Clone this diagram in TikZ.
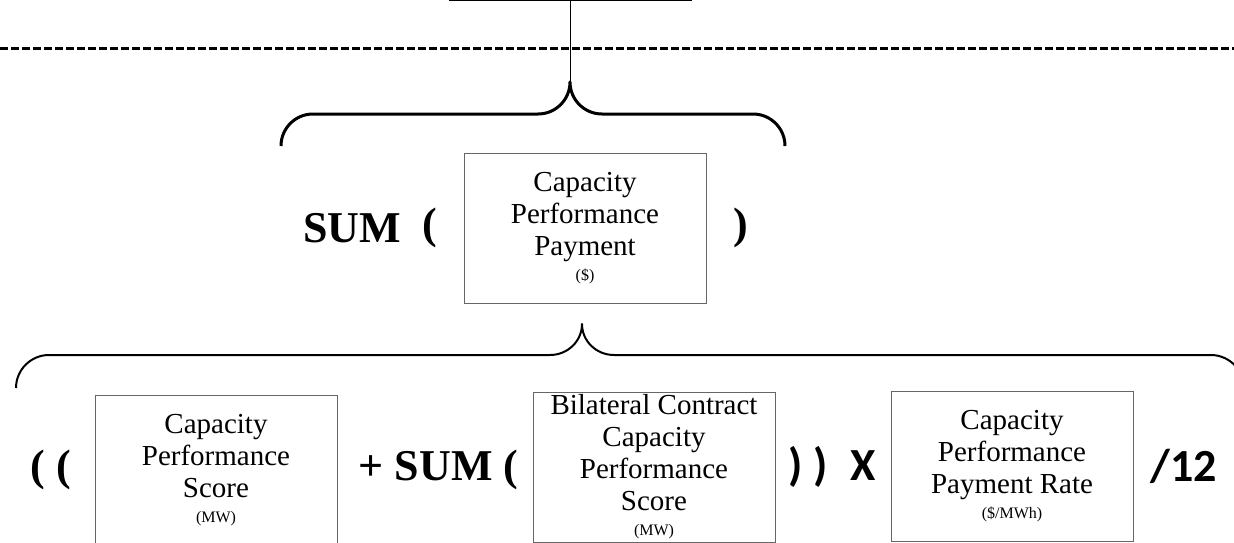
\documentclass[tikz,border=0pt]{standalone}
\usepackage{fontspec}
\setmainfont{Liberation Serif}
\usepackage{tikz}
\usetikzlibrary{positioning}
\newfontfamily\calfont{Carlito}
\newcommand\unitline[1]{\\[-7pt]{\fontsize{16}{18}\selectfont #1}}
\tikzstyle{box} = [draw=black!60, line width=1, minimum width=242, minimum height=150, inner sep=0, align=center, font=\fontsize{29}{32}\selectfont]
\tikzstyle{op} = [inner sep=0, font=\bfseries\fontsize{44}{44}\selectfont]
\tikzstyle{opsans} = [inner sep=0, font=\calfont\bfseries\fontsize{46}{46}\selectfont]
\tikzstyle{brace} = [line width=3, line join=round]

\begin{document}
\begin{tikzpicture}[x=1pt,y=-1pt,node distance=20pt]
\useasboundingbox (0,0) rectangle (1234,543);
\clip (0,0) rectangle (1234,543);

\node[box, draw=black, minimum height=60] (0) at (570,-29) {};
\node[box] (1) at (585,228) {Capacity\\Performance\\Payment\unitline{(\$)}};
\node[box] (2) at (216,470) {Capacity\\Performance\\Score\unitline{(MW)}};
\node[box] (3) at (654,467) {Bilateral Contract\\Capacity\\Performance\\Score\unitline{(MW)}};
\node[box] (4) at (1012,466) {Capacity\\Performance\\Payment Rate\unitline{(\$/MWh)}};

\node[op, left=26pt of 1] (5) {(};
\node[op, left=21pt of 5] (6) {SUM};
\node[op, right=27pt of 1] (7) {)};
\node[op, left=23pt of 2] (8) {( (};
\node[op, right=21pt of 2] (9) {+ SUM (};
\node[opsans, right=13pt of 3] (10) {) )};
\node[opsans, left=14pt of 4] (11) {X};
\node[opsans, right=17pt of 4] (12) {/12};

\coordinate (tA) at (570,82);
\coordinate (tB) at (582,324);

\draw[line width=3, dash pattern=on 8pt off 3pt] (0,49) -- (1234,49);
\draw[line width=1] (0.south) -- (tA);
\draw[brace] (281,146) .. controls (281,128.3) and (295.3,114) .. (313,114) -- (538,114)
  .. controls (555.7,114) and (570,99.7) .. (tA) .. controls (570,99.7) and (584.3,114) .. (602,114)
  -- (753,114) .. controls (770.7,114) and (785,128.3) .. (785,146);
\draw[brace, line width=2] (16,388) .. controls (16,369.8) and (30.8,355) .. (49,355) -- (550,355)
  .. controls (567.7,355) and (582,341.1) .. (tB) .. controls (582,341.1) and (596.3,355) .. (614,355)
  -- (1211,355) .. controls (1230,355) and (1246,372) .. (1246,392);
\end{tikzpicture}
\end{document}
